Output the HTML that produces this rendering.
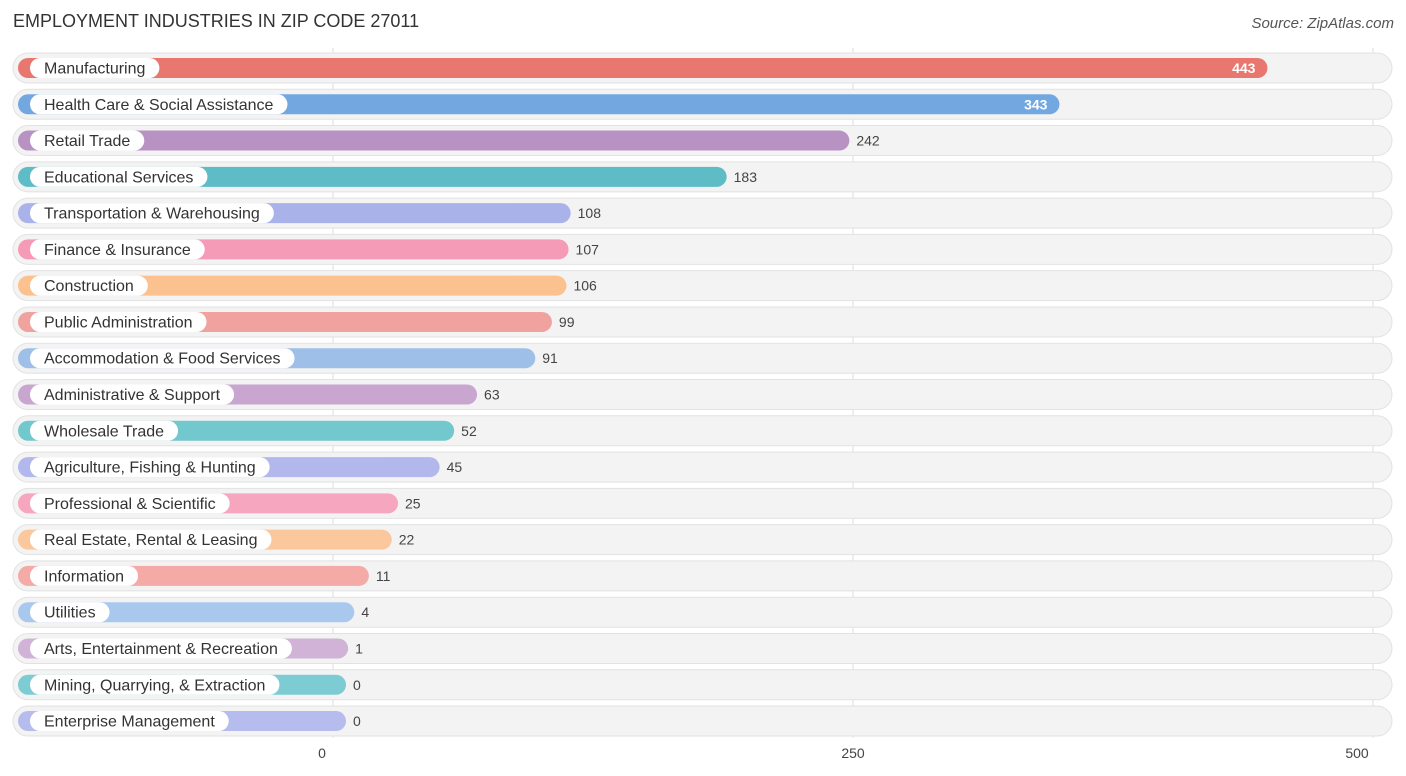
<!DOCTYPE html>
<html><head><meta charset="utf-8">
<style>
body{margin:0;background:#fff;font-family:"Liberation Sans",sans-serif;}
#c{position:relative;width:1406px;height:776px;overflow:hidden;}
.t{position:absolute;left:13px;top:11px;font-size:18px;color:#333;}
.s{position:absolute;right:12px;top:15px;font-size:15px;color:#555;font-style:italic;}
</style></head><body>
<div id="c">
<div class="t">EMPLOYMENT INDUSTRIES IN ZIP CODE 27011</div>
<div class="s">Source: ZipAtlas.com</div>
<svg id="svg" width="1406" height="776" style="position:absolute;left:0;top:0"></svg>
</div>
<script>
const categories=["Manufacturing","Health Care & Social Assistance","Retail Trade","Educational Services","Transportation & Warehousing","Finance & Insurance","Construction","Public Administration","Accommodation & Food Services","Administrative & Support","Wholesale Trade","Agriculture, Fishing & Hunting","Professional & Scientific","Real Estate, Rental & Leasing","Information","Utilities","Arts, Entertainment & Recreation","Mining, Quarrying, & Extraction","Enterprise Management"];
const values=[443,343,242,183,108,107,106,99,91,63,52,45,25,22,11,4,1,0,0];
const colors=["#e8786f","#72a7e0","#b892c2","#5dbcc5","#a9b3ea","#f59ab7","#fbc18f","#f0a39e","#9dbfe8","#c9a6d0","#72c8cc","#b3b8ec","#f7a6c0","#fbc89e","#f4aaa6","#a9c8ee","#d0b3d6","#7dcbd3","#b6bcee"];
const ticks=[0,250,500];
const NS="http://www.w3.org/2000/svg";
const svg=document.getElementById('svg');
const x0=333,scale=(1373-333)/500;
const xs=v=>x0+v*scale;
const rowY=i=>68+i*36.28;
function mk(t,a,p){const e=document.createElementNS(NS,t);for(const k in a)e.setAttribute(k,a[k]);(p||svg).appendChild(e);return e;}
ticks.forEach(t=>{
 const l=mk('line',{x1:xs(t),x2:xs(t),y1:48,y2:738,stroke:'#ddd','stroke-width':1});
 
 
 const tx=mk('text',{x:xs(t)+(t===0?-11:(t===500?-16:0)),y:758,'font-size':14,fill:'#444','text-anchor':'middle','font-family':'Liberation Sans'});
 tx.textContent=t;
 
 
});
categories.forEach((c,i)=>{
 const y=rowY(i);
 const g=mk('g',{});
 
 
 mk('rect',{x:13,y:y-15,width:1379,height:30,rx:15,fill:'#f3f3f3',stroke:'#e2e2e2'},g);
 const end=xs(values[i])+13;
 const b=mk('rect',{x:18,y:y-10,width:end-18,height:20,rx:10,fill:colors[i]},g);
 
 
 const lbl=mk('text',{x:44,y:y+5.5,'font-size':16,fill:'#333','font-family':'Liberation Sans'},g);
 lbl.textContent=c;
 const w=lbl.getComputedTextLength();
 const pill=mk('rect',{x:30,y:y-10,width:w+28,height:20,rx:10,fill:'#fff'},g);
 g.insertBefore(pill,lbl);
 const inside=values[i]>300;
 const v=mk('text',{x:inside?end-12:end+7,y:y+5,'font-size':14,fill:inside?'#fff':'#444','text-anchor':inside?'end':'start','font-weight':inside?'bold':'normal','font-family':'Liberation Sans'},g);
 v.textContent=values[i];
 
 
});
</script>
</body></html>
